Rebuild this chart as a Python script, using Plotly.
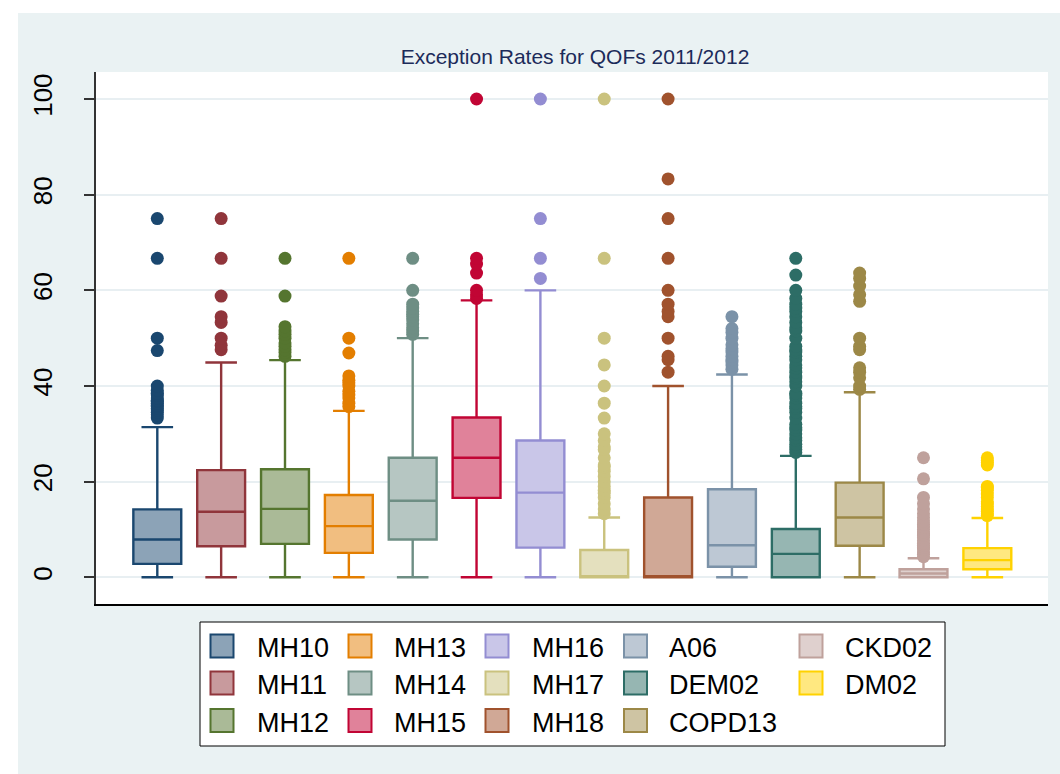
import plotly.graph_objects as go

# ---------------- data ----------------
labels = ["MH10", "MH11", "MH12", "MH13", "MH14", "MH15", "MH16",
          "MH17", "MH18", "A06", "DEM02", "COPD13", "CKD02", "DM02"]

lower_whisker = [0, 0, 0, 0, 0, 0, 0, 0, 0, 0, 0, 0, 0, 0]
q1_vals = [2.8, 6.5, 7.0, 5.1, 7.9, 16.6, 6.2, 0, 0, 2.2, 0, 6.6, 0, 1.7]
median_vals = [7.9, 13.7, 14.3, 10.7, 16.0, 25.0, 17.7, 0, 0, 6.7, 4.9, 12.5, 0.8, 3.6]
q3_vals = [14.2, 22.4, 22.6, 17.2, 25.0, 33.4, 28.6, 5.7, 16.7, 18.4, 10.1, 19.8, 1.7, 6.1]
upper_whisker = [31.4, 44.9, 45.4, 34.8, 50.0, 57.9, 60.0, 12.5, 40.0, 42.4, 25.4, 38.7, 4.0, 12.4]

out_MH10 = [33.3, 34.0, 34.5, 35.0, 35.3, 35.7, 36.0, 36.4, 36.8, 37.0, 37.5, 38.1,
            38.5, 39.1, 40.0, 47.4, 50.0, 66.7, 75.0]
out_MH11 = [47.6, 48.5, 50.0, 53.3, 54.5, 58.8, 66.7, 75.0]
out_MH12 = [46.2, 47.0, 47.6, 48.3, 49.0, 50.0, 50.8, 51.5, 52.4, 58.8, 66.7]
out_MH13 = [35.7, 36.4, 37.5, 38.1, 38.9, 40.0, 40.7, 41.2, 42.1, 46.9, 50.0, 66.7]
out_MH14 = [50.8, 51.5, 52.2, 53.0, 53.8, 54.5, 55.0, 55.6, 56.3, 57.1, 60.0, 66.7]
out_MH15 = [58.3, 59.1, 60.0, 63.6, 65.5, 66.7, 100.0]
out_MH16 = [62.5, 66.7, 75.0, 100.0]
out_MH17 = [13.3, 14.3, 15.4, 16.7, 17.6, 18.2, 19.0, 20.0, 21.1, 22.2, 23.1, 23.5,
            25.0, 26.7, 27.3, 28.6, 30.0, 33.3, 36.4, 40.0, 44.4, 50.0, 66.7, 100.0]
out_MH18 = [42.9, 45.5, 46.2, 50.0, 54.5, 55.6, 57.1, 60.0, 66.7, 75.0, 83.3, 100.0]
out_A06 = [43.5, 44.4, 45.0, 45.5, 46.2, 47.1, 47.8, 48.6, 50.0, 51.2, 52.0, 54.5]
out_DEM02 = [26.1, 26.7, 27.3, 27.8, 28.6, 29.2, 30.0, 30.8, 31.3, 32.0, 33.3, 34.5,
             35.3, 35.7, 36.4, 37.5, 38.1, 38.5, 40.0, 40.9, 41.7, 42.1, 42.9, 43.8,
             44.4, 45.5, 46.2, 47.1, 47.6, 48.3, 50.0, 51.5, 52.2, 53.3, 54.5, 55.6,
             56.3, 57.1, 58.3, 60.0, 63.2, 66.7]
out_COPD13 = [39.3, 40.0, 41.7, 42.9, 43.8, 47.6, 48.3, 50.0, 57.7, 59.1, 60.9, 62.5, 63.6]
out_CKD02 = [4.3, 4.8, 5.3, 5.9, 6.3, 6.7, 7.1, 7.7, 8.3, 8.8, 9.1, 9.5, 10.0, 10.5,
             11.1, 11.8, 12.5, 13.3, 14.3, 15.4, 16.7, 20.6, 25.0]
out_DM02 = [12.9, 13.3, 13.8, 14.3, 14.8, 15.4, 15.8, 16.7, 17.4, 18.2, 18.8, 19.0,
            23.5, 24.0, 24.4, 25.0]

outliers = [out_MH10, out_MH11, out_MH12, out_MH13, out_MH14, out_MH15, out_MH16,
            out_MH17, out_MH18, out_A06, out_DEM02, out_COPD13, out_CKD02, out_DM02]

y_ticks = [0, 20, 40, 60, 80, 100]
title_text = "Exception Rates for QOFs 2011/2012"

# ---------------- style ----------------
line_colors = ["#1a476f", "#90353b", "#55752f", "#e37e00", "#6e8e84", "#c10534",
               "#938dd2", "#cac27e", "#a0522d", "#7b92a8", "#2d6d66", "#9c8847",
               "#bfa19c", "#ffd200"]


def lighten(hexcol, f=0.5):
    h = hexcol.lstrip("#")
    r, g, b = int(h[0:2], 16), int(h[2:4], 16), int(h[4:6], 16)
    r = round(r * f + 255 * (1 - f))
    g = round(g * f + 255 * (1 - f))
    b = round(b * f + 255 * (1 - f))
    return "#%02x%02x%02x" % (r, g, b)


fill_colors = [lighten(c) for c in line_colors]

FONT = "Liberation Sans, Arial, Helvetica, sans-serif"
W, H = 1060, 774
L, R, T, B = 96, 12, 72, 170
PW = W - L - R
PH = H - T - B


def fx(px):
    return (px - L) / PW


def fy(py):
    return (H - B - py) / PH


fig = go.Figure()
for i, lab in enumerate(labels):
    fig.add_trace(go.Box(
        x=[i], q1=[q1_vals[i]], median=[median_vals[i]], q3=[q3_vals[i]],
        lowerfence=[lower_whisker[i]], upperfence=[upper_whisker[i]],
        width=0.75, whiskerwidth=0.66, fillcolor=fill_colors[i],
        line=dict(color=line_colors[i], width=2.4), boxpoints=False,
        name=lab, showlegend=False, hoverinfo="skip"))
    fig.add_trace(go.Scatter(
        x=[i] * len(outliers[i]), y=outliers[i], mode="markers",
        marker=dict(size=13, color=line_colors[i], line=dict(width=0)),
        name=lab, showlegend=False, hoverinfo="skip"))

shapes = [
    dict(type="rect", xref="paper", yref="paper", layer="below",
         x0=fx(18), x1=fx(1062), y0=fy(776), y1=fy(13),
         fillcolor="#eaf2f3", line=dict(width=0)),
    dict(type="rect", xref="paper", yref="paper", layer="below",
         x0=0, x1=1, y0=0, y1=1, fillcolor="#ffffff", line=dict(width=0)),
    dict(type="rect", xref="paper", yref="paper", layer="below",
         x0=fx(200), x1=fx(945), y0=fy(746), y1=fy(622),
         fillcolor="#ffffff", line=dict(color="#000000", width=1)),
]

annotations = []
sw_x = [222, 360, 497, 635.5, 811]
tx_x = [254.6, 392.4, 530.3, 666.6, 843.2]
row_y = [646, 683, 720.5]
SW = 23
for k, lab in enumerate(labels):
    col, row = k // 3, k % 3
    cx, cy = sw_x[col], row_y[row]
    shapes.append(dict(type="rect", xref="paper", yref="paper", layer="above",
                       x0=fx(cx - SW / 2), x1=fx(cx + SW / 2),
                       y0=fy(cy + SW / 2), y1=fy(cy - SW / 2),
                       fillcolor=fill_colors[k],
                       line=dict(color=line_colors[k], width=2)))
    annotations.append(dict(xref="paper", yref="paper", x=fx(tx_x[col]), y=fy(cy + 2),
                            xanchor="left", yanchor="middle", showarrow=False,
                            text=lab, font=dict(family=FONT, size=27, color="#000000")))

fig.update_layout(
    width=W, height=H,
    margin=dict(l=L, r=R, t=T, b=B, pad=0),
    paper_bgcolor="#ffffff", plot_bgcolor="#ffffff",
    boxmode="overlay",
    showlegend=False,
    title=dict(text=title_text, x=fx(575), xref="paper", xanchor="center",
               y=1 - 57 / H, yref="container", yanchor="middle",
               font=dict(family=FONT, size=21, color="#1c2b5a")),
    xaxis=dict(range=[-0.96, 13.95], showticklabels=False, showgrid=False,
               zeroline=False, showline=True, linecolor="#000000", linewidth=1.5,
               ticks=""),
    yaxis=dict(range=[-5.58, 105.65], tickvals=y_ticks,
               ticktext=[str(v) for v in y_ticks],
               ticks="outside", ticklen=10, tickwidth=1.5, tickcolor="#333333",
               showline=True, linecolor="#333333", linewidth=1.5,
               showgrid=True, gridcolor="#e8eff2", gridwidth=2, zeroline=False,
               tickangle=-90, ticklabelstandoff=22,
               tickfont=dict(family=FONT, size=26, color="#000000")),
    shapes=shapes,
    annotations=annotations,
)

fig.write_html("out.html")
